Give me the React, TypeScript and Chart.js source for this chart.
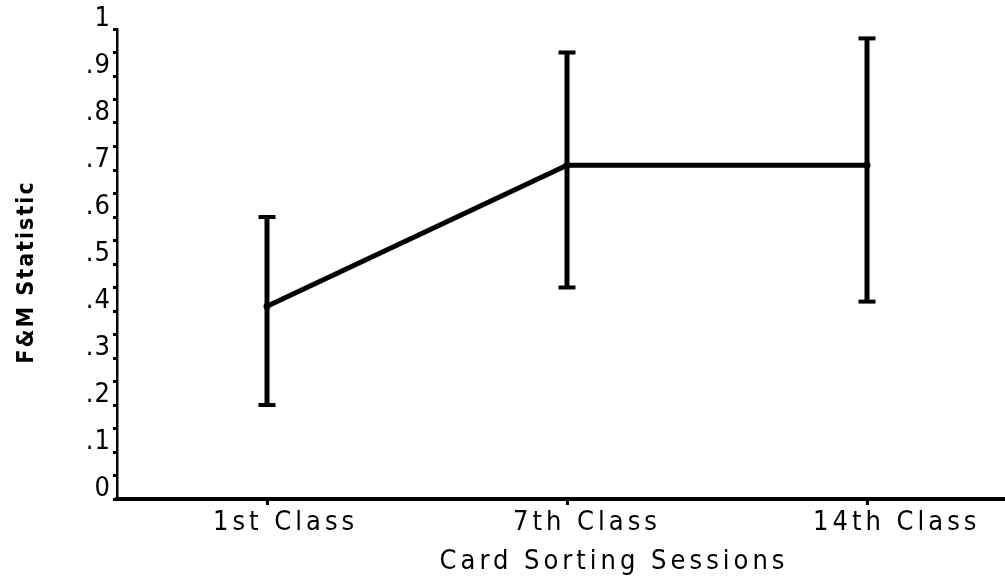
import React, { useEffect, useRef } from 'react';
import { Chart, registerables } from 'chart.js';

Chart.register(...registerables);

const categories = ['1st Class', '7th Class', '14th Class'];
const means = [0.41, 0.71, 0.71];
const lows = [0.2, 0.45, 0.42];
const highs = [0.6, 0.95, 0.98];
const yTickLabels = ['0', '.1', '.2', '.3', '.4', '.5', '.6', '.7', '.8', '.9', '1'];
const xTitle = 'Card Sorting Sessions';
const yTitle = 'F&M Statistic';

const FONT = "'Liberation Sans Narrow', 'DejaVu Sans Condensed', 'Liberation Sans', sans-serif";

const spacingPlugin = {
  id: 'spacingTitles',
  beforeLayout(chart: any) {
    chart.ctx.letterSpacing = '4px';
  },
  beforeDraw(chart: any) {
    chart.ctx.letterSpacing = '4px';
    const ys = chart.scales.y;
    if (ys && !ys.__patched) {
      const orig = ys.drawLabels.bind(ys);
      ys.drawLabels = (area: any) => {
        const c = ys.ctx;
        const prev = c.letterSpacing;
        c.letterSpacing = '1px';
        orig(area);
        c.letterSpacing = prev;
      };
      ys.__patched = true;
    }
  },
  afterDraw(chart: any) {
    const ctx = chart.ctx;
    const xs = chart.scales.x;
    const area = chart.chartArea;
    ctx.save();
    ctx.fillStyle = '#000';
    ctx.letterSpacing = '4px';
    ctx.font = `27px ${FONT}`;
    ctx.textAlign = 'center';
    ctx.textBaseline = 'alphabetic';
    ctx.fillText(xTitle, xs.getPixelForValue(1) + 47, xs.bottom - 8);
    ctx.restore();

    ctx.save();
    ctx.fillStyle = '#000';
    ctx.letterSpacing = '2px';
    ctx.font = `bold 23px ${FONT}`;
    ctx.textAlign = 'center';
    ctx.textBaseline = 'alphabetic';
    ctx.translate(33, (area.top + area.bottom) / 2 + 8);
    ctx.rotate(-Math.PI / 2);
    ctx.fillText(yTitle, 0, 0);
    ctx.restore();
  },
};

export default function App() {
  const ref = useRef<HTMLCanvasElement | null>(null);

  useEffect(() => {
    if (!ref.current) return;
    const meanData = categories.map((_, i) => ({ x: i, y: means[i] }));
    const errorSets = categories.map((c, i) => ({
      label: c + ' range',
      data: [
        { x: i, y: lows[i] },
        { x: i, y: highs[i] },
      ],
      borderColor: '#000',
      backgroundColor: '#000',
      borderWidth: 5,
      pointStyle: 'line',
      pointRadius: 8.5,
      pointBorderWidth: 4,
      pointBorderColor: '#000',
      pointBackgroundColor: '#000',
      tension: 0,
    }));

    const chart = new Chart(ref.current, {
      type: 'line',
      data: {
        datasets: [
          {
            label: 'F&M Statistic',
            data: meanData,
            borderColor: '#000',
            backgroundColor: '#000',
            borderWidth: 5,
            pointRadius: 3.5,
            pointBorderWidth: 0,
            pointBackgroundColor: '#000',
            tension: 0,
          },
          ...errorSets,
        ] as any,
      },
      options: {
        animation: false,
        responsive: true,
        maintainAspectRatio: false,
        layout: { autoPadding: false, padding: { top: 29, right: 0, left: 0, bottom: 0 } },
        plugins: {
          legend: { display: false },
          tooltip: { enabled: false },
        },
        scales: {
          x: {
            type: 'linear',
            min: -0.5,
            max: 2.46,
            afterBuildTicks: (s: any) => {
              s.ticks = categories.map((_, i) => ({ value: i }));
            },
            afterFit: (s: any) => {
              s.height = 78;
              s.paddingLeft = 0;
              s.paddingRight = 0;
            },
            ticks: {
              callback: (v: any) => categories[v as number] ?? '',
              align: 'start',
              labelOffset: -54,
              padding: 2,
              autoSkip: false,
              maxRotation: 0,
              color: '#000',
              font: { family: FONT, size: 27 },
            },
            grid: {
              drawOnChartArea: false,
              drawTicks: true,
              tickLength: 6,
              lineWidth: 3,
              color: '#000',
            },
            border: { color: '#000', width: 4 },
          },
          y: {
            min: 0,
            max: 1,
            afterFit: (s: any) => {
              s.width = 117;
              s.paddingTop = 0;
              s.paddingBottom = 0;
            },
            ticks: {
              stepSize: 0.05,
              autoSkip: false,
              callback: (_v: any, i: number) => (i % 2 === 0 ? yTickLabels[i / 2] : ''),
              labelOffset: -10,
              padding: 2,
              color: '#000',
              font: { family: FONT, size: 27 },
            },
            grid: {
              drawOnChartArea: false,
              tickLength: 4,
              lineWidth: 3,
              color: '#000',
            },
            border: { color: '#000', width: 2.5 },
          },
        },
      } as any,
      plugins: [spacingPlugin],
    });
    return () => chart.destroy();
  }, []);

  return (
    <div style={{ position: 'fixed', left: 0, top: 0, width: 1005, height: 577, background: '#fff' }}>
      <canvas ref={ref} />
    </div>
  );
}
